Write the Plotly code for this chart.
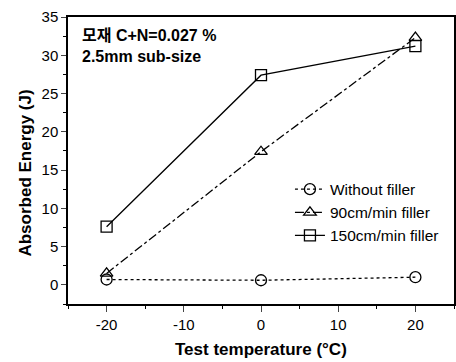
import plotly.graph_objects as go

temps = [-20, 0, 20]
without_filler = [0.7, 0.6, 1.0]
filler_90 = [1.5, 17.4, 32.3]
filler_150 = [7.6, 27.4, 31.2]
series_names = ["Without filler", "90cm/min filler", "150cm/min filler"]
x_ticks = [-20, -10, 0, 10, 20]
x_ticklabels = ["-20", "-10", "0", "10", "20"]
y_ticks = [0, 5, 10, 15, 20, 25, 30, 35]

FONT = "Arial, Liberation Sans, Noto Sans CJK KR, sans-serif"

fig = go.Figure()
styles = [
    (without_filler, "dot", "circle-open"),
    (filler_90, "dashdot", "triangle-up-open"),
    (filler_150, "solid", "square-open"),
]
for name, (vals, dash, sym) in zip(series_names, styles):
    fig.add_trace(go.Scatter(
        x=temps, y=vals, name=name, mode="lines+markers",
        line=dict(color="black", width=1.3, dash=dash),
        marker=dict(symbol=sym, size=11, color="black", line=dict(width=1.3, color="black")),
    ))

fig.update_layout(
    width=456, height=362,
    margin=dict(l=68, r=2, t=17, b=58),
    paper_bgcolor="white", plot_bgcolor="white",
    font=dict(family=FONT, size=15, color="black"),
    showlegend=True,
    legend=dict(x=0.575, y=0.458, xanchor="left", yanchor="top",
                bgcolor="rgba(0,0,0,0)", font=dict(size=15.5, family=FONT),
                tracegroupgap=0),
    xaxis=dict(range=[-25, 25], tickvals=x_ticks, ticktext=x_ticklabels,
               ticks="outside", ticklen=6, tickwidth=1.3, automargin=False,
               showline=True, linewidth=1.5, linecolor="black", mirror=True, showgrid=False,
               zeroline=False, tickfont=dict(size=15),
               minor=dict(dtick=5, ticks="outside", ticklen=3, tickwidth=1.2, tickcolor="black")),
    yaxis=dict(range=[-2.5, 35], tickvals=y_ticks, ticks="outside", ticklen=5, tickwidth=1.3,
               automargin=False, tickfont=dict(size=15),
               showline=True, linewidth=1.5, linecolor="black", mirror=True, showgrid=False,
               zeroline=False,
               minor=dict(dtick=2.5, ticks="outside", ticklen=3, tickwidth=1.2, tickcolor="black")),
    annotations=[
        dict(x=0.03, y=0.937, xref="paper", yref="paper", xanchor="left", yanchor="middle",
             text="<b>모재 C+N=0.027 %</b>", showarrow=False, font=dict(size=16)),
        dict(x=0.03, y=0.861, xref="paper", yref="paper", xanchor="left", yanchor="middle",
             text="<b>2.5mm sub-size</b>", showarrow=False, font=dict(size=16)),
        dict(x=0.5, y=-0.160, xref="paper", yref="paper", xanchor="center", yanchor="middle",
             text="<b>Test temperature (°C)</b>", showarrow=False, font=dict(size=17)),
        dict(x=-0.111, y=0.455, xref="paper", yref="paper", xanchor="center", yanchor="middle",
             text="<b>Absorbed Energy (J)</b>", showarrow=False, textangle=-90, font=dict(size=17)),
    ],
)

fig.write_html("out.html", config={"displayModeBar": False},
               post_script="document.body.style.margin='0';document.body.style.overflow='hidden';")
